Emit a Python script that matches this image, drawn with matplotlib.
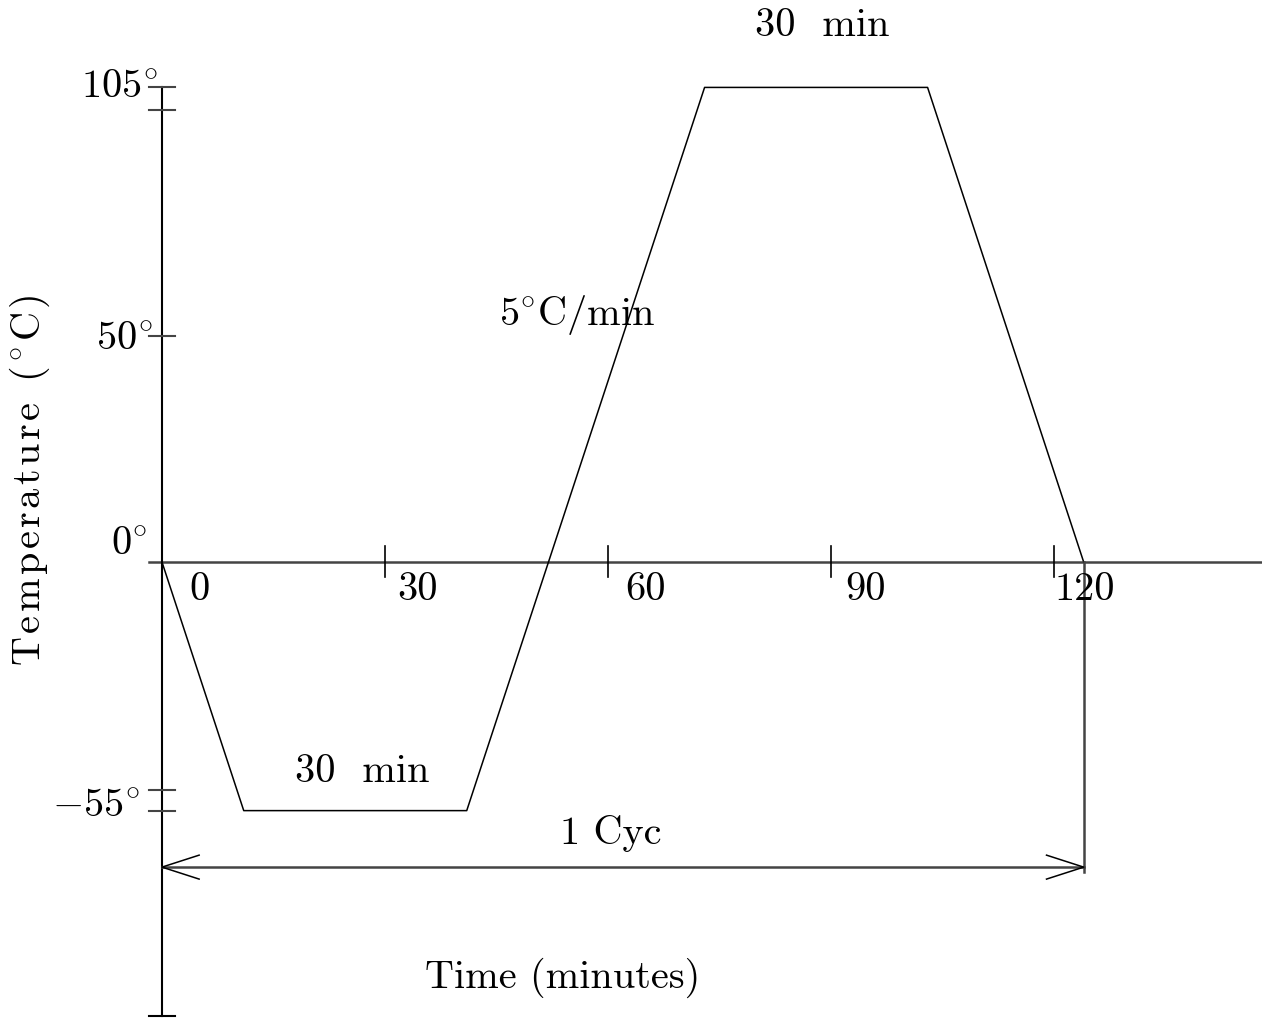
import numpy as np
import matplotlib
matplotlib.use("Agg")
import matplotlib.pyplot as plt

plt.rcParams['font.family'] = ['cmr10', 'DejaVu Serif']
plt.rcParams['mathtext.fontset'] = 'cm'

# temperature cycle profile (minutes, deg C)
times = [0, 11, 41, 73, 103, 124]
temps = [0, -55, -55, 105, 105, 0]

xticks = [30, 60, 90, 120]
xtick_labels = ['0', '30', '60', '90', '120']
xlabel_pos = [5.1, 34.4, 65.0, 94.7, 124.2]
ylevels = [105, 50, 0, -55]
ylabels = [r'$105^{\circ}$', r'$50^{\circ}$', r'$0^{\circ}$', r'$-55^{\circ}$']
cycle_len = 124

fig = plt.figure(figsize=(12.62, 10.18), dpi=100)
ax = fig.add_axes([0, 0, 1, 1])
ax.axis('off')
ax.set_xlim(-21.79, 147.99)
ax.set_ylim(-100.88, 124.34)

axc = '#444444'
fs = 29

# axes
ax.plot([-1.75, 148], [0, 0], color=axc, lw=1.8)
ax.plot([0, 0], [105, -100.4], color='black', lw=1.5)
ax.plot([-1.75, 1.75], [-100.4, -100.4], color='black', lw=1.5)

# y ticks (double ticks at the extremes)
for lv in [105, 100, 50, -50.4, -55]:
    ax.plot([-1.75, 1.75], [lv, lv], color=axc, lw=1.5)
for x in xticks:
    ax.plot([x, x], [3.5, -3.4], color='black', lw=1.2)

# profile
ax.plot(times, temps, color='black', lw=1.1)

# cycle dimension
ax.plot([cycle_len, cycle_len], [0, -68.6], color=axc, lw=1.8)
ya = -67.5
ax.plot([0, cycle_len], [ya, ya], color=axc, lw=1.8)
for x0, d in [(0, 1), (cycle_len, -1)]:
    ax.plot([x0 + d * 5, x0, x0 + d * 5], [ya + 2.65, ya, ya - 2.65], color='black', lw=1.1)

# tick labels
for lab, x in zip(xtick_labels, xlabel_pos):
    ax.text(x, -6.2, lab, fontsize=fs, ha='center', va='center')
ylab_x = [-0.54, -1.2, -2.0, -3.0]
ylab_y = [104.9, 49.1, 3.8, -54.2]
for lab, x, y in zip(ylabels, ylab_x, ylab_y):
    ax.text(x, y, lab, fontsize=fs, ha='right', va='center')

# annotations
ax.text(88.8, 118.6, '30  min', fontsize=fs, ha='center', va='center')
ax.text(27.0, -46.5, '30  min', fontsize=fs, ha='center', va='center')
ax.text(55.8, 54.6, r'$5^{\circ}$C/min', fontsize=fs, ha='center', va='center')
ax.text(60.4, -60.0, '1 Cyc', fontsize=fs, ha='center', va='center')
ax.text(53.9, -92.0, 'Time (minutes)', fontsize=fs, ha='center', va='center')

ylabel = 'Temperature (' + '\u00b0' + 'C)'
gap = r'$\hspace{0.1}$'
spaced = gap.join(ch if ch != '\u00b0' else r'$^{\circ}$' for ch in ylabel)
ax.text(-17.8, 18.1, spaced, fontsize=fs, ha='center', va='center', rotation=90)

fig.savefig('out.png', dpi=100)
